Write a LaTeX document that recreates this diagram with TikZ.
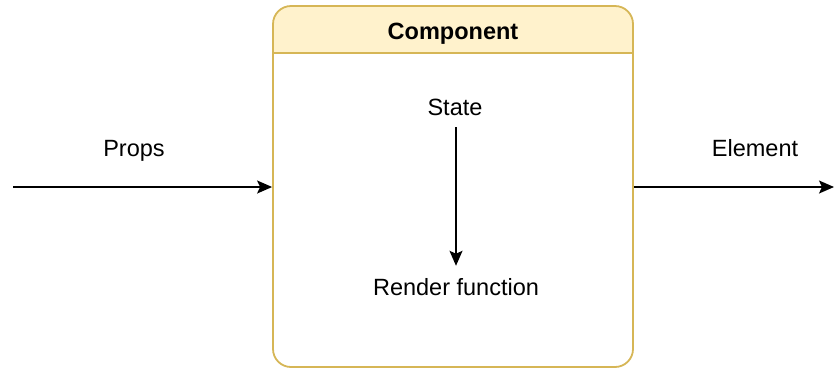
\documentclass[tikz,border=0pt]{standalone}
\usepackage{fontspec}
\setmainfont{Liberation Sans}
\usetikzlibrary{arrows.meta}
\definecolor{hdrfill}{HTML}{FFF2CC}
\definecolor{hdrline}{HTML}{D6B656}
\tikzset{
  lbl/.style={font=\fontsize{23.5}{28}\selectfont, inner sep=0pt, anchor=base},
  flow/.style={line width=1.6pt, -{Stealth[length=15pt,width=13pt,inset=3pt]}},
  frame/.style={draw=hdrline, line width=1.8pt, rounded corners=18pt}
}
\begin{document}
\begin{tikzpicture}[x=1pt,y=-1pt]
  \useasboundingbox (0,0) rectangle (837,368);
  % component container
  \fill[hdrfill, rounded corners=18pt] (273,53) -- (273,6) -- (633,6) -- (633,53);
  \node[frame, minimum width=360pt, minimum height=361pt, inner sep=0pt] (comp) at (453,186.5) {};
  \draw[hdrline, line width=1.8pt] (comp.west |- 0,53) -- (comp.east |- 0,53);
  \node[lbl, font=\fontsize{23.5}{28}\selectfont\bfseries] (title) at (453,39) {Component};
  % inner content
  \node[lbl] (state) at (455,115) {State};
  \node[lbl] (render) at (456,295) {Render function};
  \draw[flow, shorten <=12pt, shorten >=12pt] (state.base -| 456,0) -- (render.north -| 456,0);
  % inputs and outputs
  \node[lbl] (props) at (134,156) {Props};
  \node[lbl] (elem) at (755,156) {Element};
  \coordinate (inL) at (13,187);
  \coordinate (outR) at (834,187);
  \draw[flow] (inL) -- (inL -| comp.west);
  \draw[flow] (comp.east |- outR) -- (outR);
\end{tikzpicture}
\end{document}
